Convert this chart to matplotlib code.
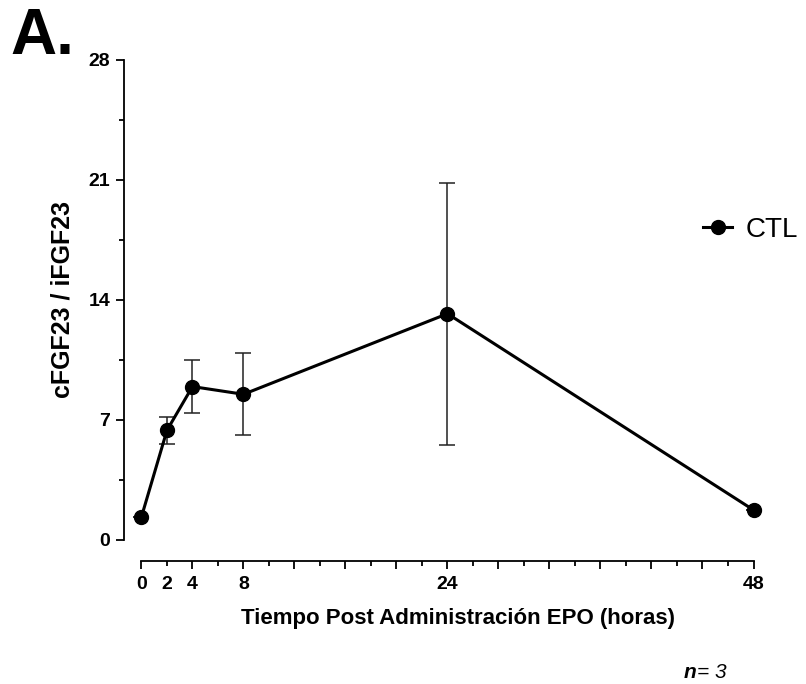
"""Recreate panel A: cFGF23 / iFGF23 ratio after EPO administration."""

import matplotlib

matplotlib.use('Agg')
from matplotlib import pyplot as plt

plt.rcParams['font.family'] = ['Liberation Sans', 'DejaVu Sans']

# data
hours = [0, 2, 4, 8, 24, 48]
ratio_ctl = [1.35, 6.4, 8.95, 8.5, 13.2, 1.75]
sem_ctl = [0.0, 0.8, 1.55, 2.4, 7.65, 0.0]

labeled_major = [0, 4, 8, 24, 48]
labeled_minor = [2]
y_ticks = [0, 7, 14, 21, 28]

W, H = 806, 684
fig = plt.figure(figsize=(W / 100, H / 100), dpi=100)
ax = fig.add_axes([124 / W, 1 - 540 / H, (753.5 - 124) / W, 480 / H])

# error bars first, then the line with markers (legend shows only the line)
ax.errorbar(
    hours, ratio_ctl, yerr=sem_ctl, fmt='none',
    ecolor='#222222', elinewidth=1.1, capsize=6, capthick=1.1,
    clip_on=False, zorder=2,
)
ax.plot(hours, ratio_ctl, color='black', linewidth=2.2, marker='o', markersize=10,
        label='CTL', clip_on=False, zorder=3)

ax.set_xlim(-1.37, 48)
ax.set_ylim(0, 28)

for side in ('top', 'right'):
    ax.spines[side].set_visible(False)
ax.spines['bottom'].set_position(('outward', 15))
ax.spines['bottom'].set_bounds(0, 48)
for side in ('left', 'bottom'):
    ax.spines[side].set_linewidth(1.3)

# x ticks every 4 h (long), every 2 h (short), only some labelled
major_x = list(range(0, 49, 4))
ax.set_xticks(major_x, [str(v) if v in labeled_major else '' for v in major_x])
minor_x = list(range(2, 49, 4))
ax.set_xticks(minor_x, [str(v) if v in labeled_minor else '' for v in minor_x], minor=True)

ax.set_yticks(y_ticks)
ax.set_yticks([3.5, 10.5, 17.5, 24.5], minor=True)

ax.tick_params(axis='both', which='major', direction='out', length=6, width=1.3,
               labelsize=14, pad=4)
ax.tick_params(axis='both', which='minor', direction='out', length=3.5, width=1.3,
               labelsize=14, pad=6.5)
ax.tick_params(axis='x', which='major', pad=5)
ax.tick_params(axis='x', which='minor', pad=7.5)
for lab in ax.get_xticklabels(which='both') + ax.get_yticklabels():
    lab.set_fontweight('bold')

ax.set_xlabel('Tiempo Post Administración EPO (horas)', fontsize=16, fontweight='bold')
ax.xaxis.set_label_coords((458 - 124) / 629.5, (540 - 608) / 480)
ax.set_ylabel('cFGF23 / iFGF23', fontsize=18, fontweight='bold')
ax.yaxis.set_label_coords((74 - 124) / 629.5, (540 - 299) / 480)

ax.legend(
    loc='center left', bbox_to_anchor=(703 / W, 1 - 230 / H),
    bbox_transform=fig.transFigure, frameon=False, fontsize=20,
    handlelength=1.05, handletextpad=0.5, borderpad=0, borderaxespad=0,
    numpoints=1,
)

fig.text(10 / W, 1 - 54 / H, 'A.', fontsize=46, fontweight='bold', ha='left', va='baseline')
fig.text(684 / W, 1 - 672 / H, 'n', fontsize=15, fontweight='bold', fontstyle='italic',
         ha='left', va='center')
fig.text(697 / W, 1 - 672 / H, '= 3', fontsize=15, fontstyle='italic',
         ha='left', va='center')

fig.savefig('out.png', dpi=100)
